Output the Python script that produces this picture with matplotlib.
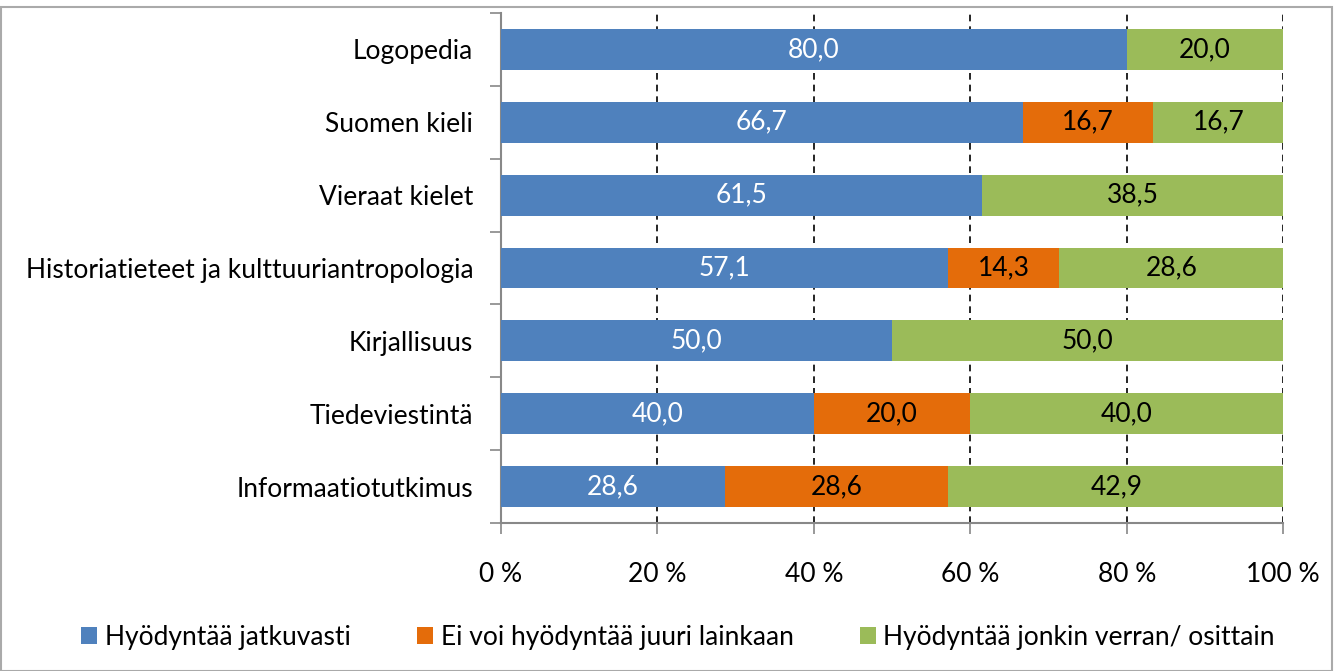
import matplotlib
matplotlib.use('Agg')
import matplotlib.pyplot as plt
import numpy as np
from matplotlib.patches import Rectangle

plt.rcParams['font.family'] = ['Lato', 'DejaVu Sans']

categories = ['Logopedia', 'Suomen kieli', 'Vieraat kielet',
              'Historiatieteet ja kulttuuriantropologia', 'Kirjallisuus',
              'Tiedeviestintä', 'Informaatiotutkimus']
jatkuvasti = [80.0, 66.7, 61.5, 57.1, 50.0, 40.0, 28.6]
ei_lainkaan = [0.0, 16.7, 0.0, 14.3, 0.0, 20.0, 28.6]
osittain = [20.0, 16.7, 38.5, 28.6, 50.0, 40.0, 42.9]
series_names = ['Hyödyntää jatkuvasti', 'Ei voi hyödyntää juuri lainkaan',
                'Hyödyntää jonkin verran/ osittain']
colors = ['#4f81bd', '#e46c0a', '#9bbb59']
label_colors = ['white', 'black', 'black']

fig = plt.figure(figsize=(13.43, 6.71), dpi=100)
ax = fig.add_axes([0.373, 0.2206, 0.5825, 0.76])

y = np.arange(len(categories))[::-1]
left = np.zeros(len(categories))
for vals, name, col, lc in zip([jatkuvasti, ei_lainkaan, osittain],
                               series_names, colors, label_colors):
    vals = np.array(vals)
    ax.barh(y, vals, left=left, height=0.56, color=col, label=name, zorder=3)
    for yi, l, v in zip(y, left, vals):
        if v > 0:
            ax.text(l + v / 2, yi, f'{v:.1f}'.replace('.', ','), ha='center',
                    va='center', color=lc, fontsize=19, zorder=4)
    left += vals

ax.set_xlim(0, 100)
ax.set_ylim(-0.5, len(categories) - 0.5)
ax.set_yticks(y)
ax.set_yticklabels(categories, fontsize=19)
ax.set_yticks(np.arange(-0.5, len(categories)), minor=True)
ax.tick_params(axis='y', which='major', length=0, pad=20)
ax.tick_params(axis='y', which='minor', length=8, color='#888888', width=1.2)
ax.set_xticks(np.arange(0, 101, 20))
ax.set_xticklabels([f'{t} %' for t in range(0, 101, 20)], fontsize=19)
ax.tick_params(axis='x', length=8, color='#888888', width=1.2, pad=20)

for t in range(20, 101, 20):
    ax.axvline(t, color='black', linestyle=(0, (4, 3)), linewidth=1.2, zorder=1)

for s in ['top', 'right']:
    ax.spines[s].set_visible(False)
for s in ['left', 'bottom']:
    ax.spines[s].set_color('#888888')
    ax.spines[s].set_linewidth(1.5)

fig.legend(loc='center', bbox_to_anchor=(0.505, 0.05), ncol=3, frameon=False,
           fontsize=19, handlelength=0.6, handleheight=0.6, handletextpad=0.3,
           columnspacing=2.5)

fig.patches.append(Rectangle((0.0005, 0.0005), 0.991, 0.9885, transform=fig.transFigure,
                             fill=False, edgecolor='#aaaaaa', linewidth=1.5))

fig.savefig('out.png', dpi=100)
